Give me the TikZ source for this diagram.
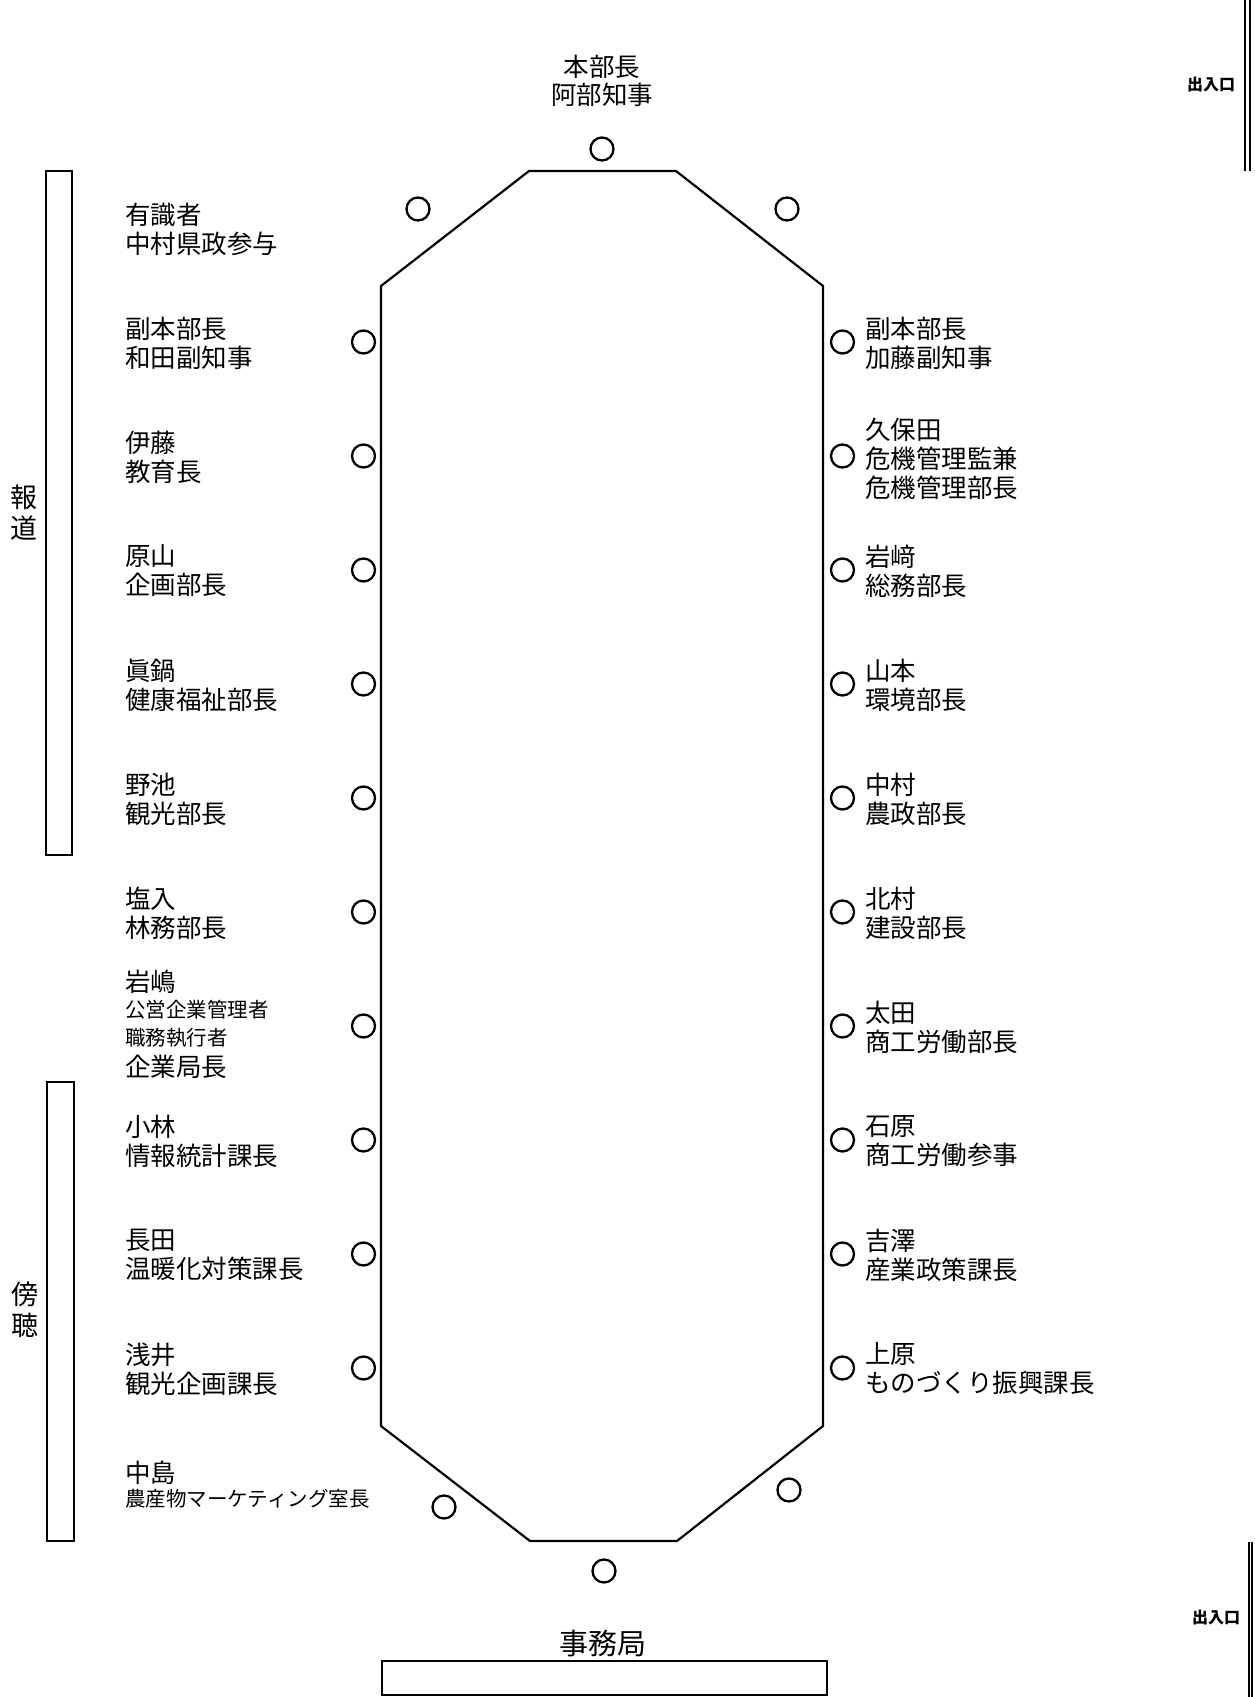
\documentclass[tikz,border=0pt]{standalone}
\usepackage{fontspec}
\newfontfamily\jp{Noto Sans CJK JP}
\begin{document}
\begin{tikzpicture}[x=1pt,y=-1pt,
  seat/.style={circle,draw,line width=2.3pt,minimum size=23pt,inner sep=0pt},
  lbl/.style={anchor=west,align=left,inner sep=0pt,font=\jp\fontsize{25.5}{29}\selectfont},
  smalllbl/.style={anchor=west,inner sep=0pt,font=\jp\fontsize{20.5}{24}\selectfont},
  vlbl/.style={align=center,inner sep=0pt,font=\jp\fontsize{27}{31}\selectfont},
  door/.style={inner sep=0pt,font=\jp\bfseries\fontsize{16}{18}\selectfont},
  wall/.style={line width=2pt}]
\useasboundingbox (0,0) rectangle (1255,1697);
% table
\draw[line width=2.2pt] (381,286) -- (529,171) -- (676,171) -- (823,286) -- (823,1426) -- (677,1541) -- (530,1541) -- (381,1426) -- cycle;
% head seats
\node[seat] (ct) at (602,149) {};
\node[seat] (ctl) at (418,209) {};
\node[seat] (ctr) at (787,209) {};
\node[seat] (cb) at (604,1571) {};
\node[seat] (cbl) at (444,1507) {};
\node[seat] (cbr) at (789,1490) {};
% side seats
\foreach \k in {0,...,9}{
  \node[seat] (cl\k) at (363.5,{342+114*\k}) {};
  \node[seat] (cr\k) at (842.5,{342+114*\k}) {};
}
% top label
\node[vlbl,font=\jp\fontsize{25.5}{28.5}\selectfont] (head) at (602,81) {本部長\\阿部知事};
% left labels
\node[lbl] (l0) at (125,229) {有識者\\中村県政参与};
\node[lbl] (l1) at (125,343) {副本部長\\和田副知事};
\node[lbl] (l2) at (125,457) {伊藤\\教育長};
\node[lbl] (l3) at (125,571) {原山\\企画部長};
\node[lbl] (l4) at (125,685) {眞鍋\\健康福祉部長};
\node[lbl] (l5) at (125,799) {野池\\観光部長};
\node[lbl] (l6) at (125,913) {塩入\\林務部長};
\node[lbl] (l7a) at (125,982) {岩嶋};
\node[smalllbl] (l7b) at (125,1010) {公営企業管理者};
\node[smalllbl] (l7c) at (125,1038) {職務執行者};
\node[lbl] (l7d) at (125,1067) {企業局長};
\node[lbl] (l8) at (125,1141) {小林\\情報統計課長};
\node[lbl] (l9) at (125,1255) {長田\\温暖化対策課長};
\node[lbl] (l10) at (125,1369) {浅井\\観光企画課長};
\node[lbl] (l11a) at (125,1473) {中島};
\node[smalllbl] (l11b) at (125,1498.5) {農産物マーケティング室長};
% right labels
\node[lbl] (r1) at (865,343) {副本部長\\加藤副知事};
\node[lbl] (r2) at (865,459) {久保田\\危機管理監兼\\危機管理部長};
\node[lbl] (r3) at (865,571) {岩﨑\\総務部長};
\node[lbl] (r4) at (865,685) {山本\\環境部長};
\node[lbl] (r5) at (865,799) {中村\\農政部長};
\node[lbl] (r6) at (865,913) {北村\\建設部長};
\node[lbl] (r7) at (865,1027) {太田\\商工労働部長};
\node[lbl] (r8) at (865,1141) {石原\\商工労働参事};
\node[lbl] (r9) at (865,1255) {吉澤\\産業政策課長};
\node[lbl] (r10) at (865,1369) {上原\\ものづくり振興課長};
% press / audience
\draw[wall] (45.5,171) rectangle (72,855);
\node[vlbl] (press) at (24,513) {報\\道};
\draw[wall] (46.5,1082) rectangle (73.5,1541);
\node[vlbl] (aud) at (25,1310) {傍\\聴};
% secretariat
\node[inner sep=0pt,font=\jp\fontsize{29}{32}\selectfont] (sec) at (603,1643) {事務局};
\draw[wall] (382,1661) rectangle (827,1695);
% doors
\node[door] (door1) at (1211,85) {出入口};
\draw[wall] (1245,0) -- (1245,171);
\draw[wall] (1249.5,0) -- (1249.5,171);
\node[door] (door2) at (1216,1618) {出入口};
\draw[wall] (1248.5,1542) -- (1248.5,1697);
\draw[wall] (1252,1542) -- (1252,1697);
\end{tikzpicture}
\end{document}
